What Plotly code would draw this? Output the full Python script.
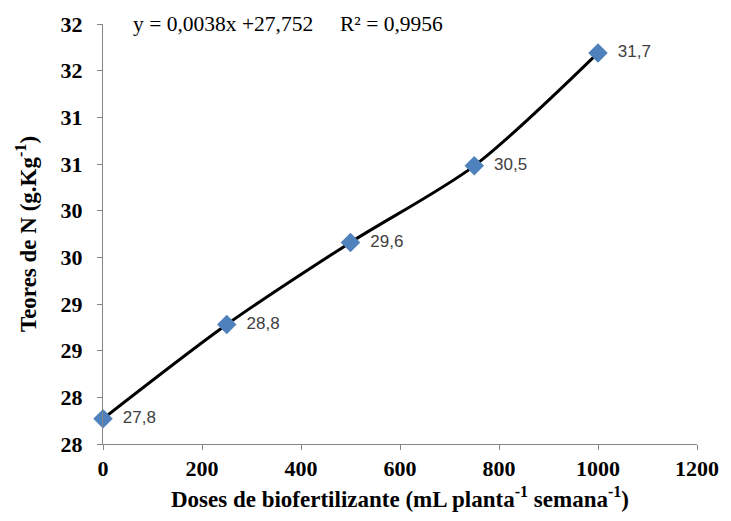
import plotly.graph_objects as go

doses = [0, 250, 500, 750, 1000]
teores = [27.77, 28.78, 29.66, 30.48, 31.69]
labels = ["27,8", "28,8", "29,6", "30,5", "31,7"]

y_tickvals = [27.5, 28.0, 28.5, 29.0, 29.5, 30.0, 30.5, 31.0, 31.5, 32.0]
y_ticktext = ["28", "28", "29", "29", "30", "30", "31", "31", "32", "32"]
x_tickvals = [0, 200, 400, 600, 800, 1000, 1200]
x_ticktext = ["0", "200", "400", "600", "800", "1000", "1200"]

equation = "y = 0,0038x +27,752\u00a0\u00a0\u00a0\u00a0\u00a0R² = 0,9956"

serif = "Liberation Serif, Times New Roman, serif"
sans = "Liberation Sans, Arial, sans-serif"
axis_gray = "#868686"

fig = go.Figure()
fig.add_trace(go.Scatter(
    x=doses, y=teores,
    mode="lines+markers+text",
    line=dict(color="black", width=3, shape="spline", smoothing=0.8),
    marker=dict(symbol="diamond", size=15, color="#4F81BD"),
    text=["\u00a0\u00a0" + t for t in labels],
    textposition="middle right",
    textfont=dict(family=sans, size=17, color="#404040"),
    cliponaxis=False,
    showlegend=False,
))

fig.add_annotation(
    x=0, xref="paper", xanchor="left", xshift=28,
    y=1, yref="paper", yanchor="middle", yshift=0,
    text=equation, showarrow=False,
    font=dict(family=serif, size=21.5, color="black"),
)

fig.update_layout(
    width=731, height=521,
    margin=dict(l=103, r=27, t=23, b=77),
    paper_bgcolor="white", plot_bgcolor="white",
    xaxis=dict(
        range=[0, 1200], tickvals=x_tickvals, ticktext=x_ticktext,
        showgrid=False, zeroline=False,
        showline=True, linecolor=axis_gray, linewidth=1,
        ticks="outside", ticklen=5, tickcolor=axis_gray,
        tickfont=dict(family=serif, size=22, color="black", weight="bold"),
        title=dict(
            text="\u00a0\u00a0\u00a0\u00a0Doses de biofertilizante (mL planta<sup>-1</sup> semana<sup>-1</sup>)",
            font=dict(family=serif, size=23, color="black", weight="bold"),
            standoff=10,
        ),
    ),
    yaxis=dict(
        range=[27.5, 32], tickvals=y_tickvals, ticktext=y_ticktext,
        showgrid=False, zeroline=False,
        showline=True, linecolor=axis_gray, linewidth=1,
        ticks="outside", ticklen=5, tickcolor=axis_gray,
        ticklabelstandoff=10,
        tickfont=dict(family=serif, size=22, color="black", weight="bold"),
        title=dict(
            text="Teores de N (g.Kg<sup>-1</sup>)",
            font=dict(family=serif, size=23, color="black", weight="bold"),
            standoff=17,
        ),
    ),
)

fig.write_html("out.html")
